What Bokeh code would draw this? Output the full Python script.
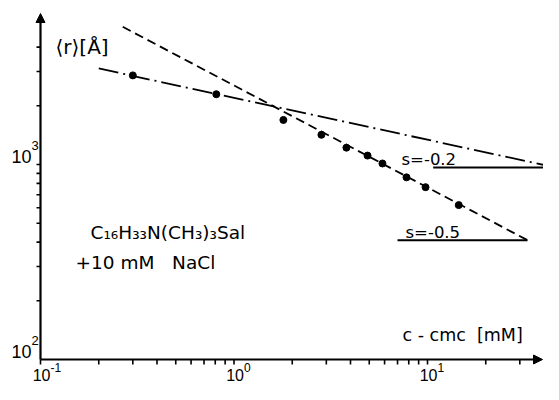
from bokeh.plotting import figure
from bokeh.models import Range1d, Arrow, NormalHead
from bokeh.core.properties import value
from bokeh.embed import file_html
from bokeh.resources import INLINE

# ---------------- data ----------------
# measured points, range c-cmc > 1 mM (dashed fit, slope -0.5)
c_high = [1.80, 2.83, 3.81, 4.90, 5.85, 7.79, 9.77, 14.5]
r_high = [1692, 1420, 1220, 1111, 1012, 859, 765, 619]
# measured points, range c-cmc < 1 mM (dash-dot fit, slope -0.2)
c_low = [0.30, 0.81]
r_low = [2864, 2293]

# fitted power laws (end points)
fit05_c = [0.266, 32.9]
fit05_r = [5082, 409]
fit02_c = [0.20, 45.8]
fit02_r = [3107, 966]
# slope-triangle base lines
base05_c = [7.0, 32.9]
base05_r = [409, 409]
base02_c = [10.7, 45.8]
base02_r = [966, 966]

# axes
x_major = [0.1, 1.0, 10.0]
x_major_exp = ["-1", "0", "1"]
x_minor = [0.2, 0.3, 0.4, 0.5, 0.6, 0.7, 0.8, 0.9,
           2, 3, 4, 5, 6, 7, 8, 9, 20, 30]
y_major = [100, 1000]
y_major_exp = ["2", "3"]
y_minor = [200, 300, 400, 500, 600, 700, 800, 900, 2000, 3000, 4000]

# ---------------- layout / scale helpers ----------------
W, H = 543, 384
PXD_X = 193.5      # pixels per decade, x
PXD_Y = 195.0      # pixels per decade, y
X0_PX = 40.0       # px of x = 0.1
Y0_PX = 359.0      # px of y = 100

def X(fx):
    return 10 ** (-1 + (fx - X0_PX) / PXD_X)

def Y(fy):
    return 10 ** (2 + (Y0_PX - fy) / PXD_Y)

def sx(x, px):
    return x * 10 ** (px / PXD_X)

def sy(y, px):  # px > 0 moves down
    return y * 10 ** (-px / PXD_Y)

p = figure(width=W, height=H, output_backend="svg", toolbar_location=None,
           x_axis_type="log", y_axis_type="log",
           x_axis_location=None, y_axis_location=None,
           x_range=Range1d(X(0), X(W)), y_range=Range1d(Y(H), Y(0)),
           min_border=0, outline_line_color=None,
           background_fill_color="white", border_fill_color="white")
p.xgrid.grid_line_color = None
p.ygrid.grid_line_color = None
p.grid.visible = False

ink = "black"
x_org, y_org = x_major[0], y_major[0]

# axis lines with arrow heads
p.add_layout(Arrow(x_start=x_org, y_start=y_org, x_end=X(W - 1), y_end=y_org,
                   line_width=2.2, line_color=ink,
                   end=NormalHead(size=9, fill_color=ink, line_color=ink)))
p.add_layout(Arrow(x_start=x_org, y_start=y_org, x_end=x_org, y_end=Y(13),
                   line_width=2.2, line_color=ink,
                   end=NormalHead(size=9, fill_color=ink, line_color=ink)))

# ticks
xt = x_major + x_minor
p.segment(x0=xt, y0=[y_org] * len(xt), x1=xt, y1=[sy(y_org, 5)] * len(xt),
          line_color=ink, line_width=1.6)
yt = y_major[1:] + y_minor
p.segment(x0=[x_org] * len(yt), y0=yt, x1=[sx(x_org, -4)] * len(yt), y1=yt,
          line_color=ink, line_width=1.6)

tick_font = value("Liberation Sans")
# bottom tick labels 10^n
p.text(x=[sx(v, 10) for v in x_major], y=[sy(y_org, 15)] * 3, text=["10"] * 3,
       text_align="right", text_baseline="middle", text_font=tick_font,
       text_font_size="16px", text_color=ink)
p.text(x=[sx(v, 10) for v in x_major], y=[sy(y_org, 8)] * 3, text=x_major_exp,
       text_align="left", text_baseline="middle", text_font=tick_font,
       text_font_size="12px", text_color=ink)
# left tick labels
p.text(x=[sx(x_org, -9)] * 2, y=[sy(v, -8) for v in y_major], text=["10"] * 2,
       text_align="right", text_baseline="middle", text_font=tick_font,
       text_font_size="18px", text_color=ink)
p.text(x=[sx(x_org, -9)] * 2, y=[sy(v, -19) for v in y_major], text=y_major_exp,
       text_align="left", text_baseline="middle", text_font=tick_font,
       text_font_size="13px", text_color=ink)

# fitted lines
p.line(fit05_c, fit05_r, line_color=ink, line_width=1.8, line_dash="9 5")
p.line(fit02_c, fit02_r, line_color=ink, line_width=1.8, line_dash="20 5 2 5")
p.line(base05_c, base05_r, line_color=ink, line_width=2)
p.line(base02_c, base02_r, line_color=ink, line_width=2)

# measured points
p.scatter(c_high, r_high, size=7, color=ink)
p.scatter(c_low, r_low, size=7, color=ink)

# texts (positioned by their vertical centre)
lab_font = value("DejaVu Sans")
def label(fx, fy, s, size="17px"):
    p.text(x=[X(fx)], y=[Y(fy)], text=[s], text_align="left",
           text_baseline="middle", text_font=lab_font,
           text_font_size=size, text_color=ink)

label(55, 46, "\u27e8r\u27e9[\u00c5]", "20px")
label(90, 232, "C\u2081\u2086H\u2083\u2083N(CH\u2083)\u2083Sal", "18.5px")
label(75, 262, "+10 mM\u00a0\u00a0\u00a0NaCl", "18.5px")
label(402, 334, "c - cmc\u00a0\u00a0[mM]", "17.5px")
label(401, 159, "s=-0.2", "16.5px")
label(405, 232, "s=-0.5", "16.5px")

open("out.html", "w").write(file_html(p, INLINE))
